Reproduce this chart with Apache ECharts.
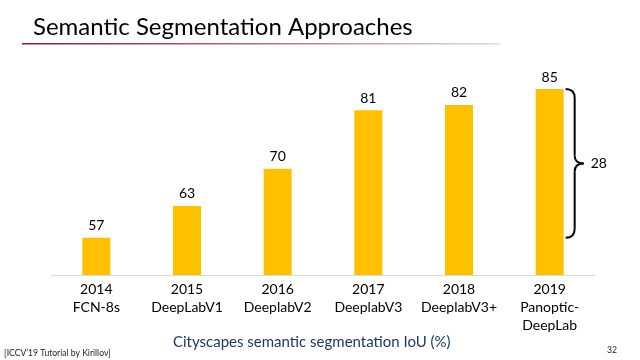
<!DOCTYPE html>
<html>
<head>
<meta charset="utf-8">
<script src="https://cdn.jsdelivr.net/npm/echarts@6/dist/echarts.min.js"></script>
<style>html,body{margin:0;padding:0;background:#fff}#c{width:640px;height:360px}</style>
</head>
<body>
<div id="c"></div>
<script>
const years = ['2014','2015','2016','2017','2018','2019'];
const methods = ['FCN-8s','DeepLabV1','DeeplabV2','DeeplabV3','DeeplabV3+','Panoptic-\nDeepLab'];
const iou = [57, 63, 70, 81, 82, 85];
const titleText = 'Semantic Segmentation Approaches';
const captionText = 'Cityscapes semantic segmentation IoU (%)';
const sourceText = "[ICCV\u201919 Tutorial by Kirillov]";
const pageText = '32';

const FONT = 'Lato';
const categories = years.map((y, i) => y + '\n' + methods[i]);
const chart = echarts.init(document.getElementById('c'), null, {renderer: 'canvas'});
chart.setOption({
  animation: false,
  backgroundColor: '#ffffff',
  textStyle: {fontFamily: FONT},
  title: {
    text: titleText, left: 28, top: 10,
    textStyle: {fontFamily: FONT, fontSize: 24, fontWeight: 'normal', color: '#000'}
  },
  grid: {left: 51, right: 45, top: 89, bottom: 85},
  xAxis: {
    type: 'category', data: categories,
    axisLine: {lineStyle: {color: '#d9d9d9', width: 1}},
    axisTick: {show: false},
    axisLabel: {fontFamily: FONT, fontSize: 14, lineHeight: 18, color: '#000', margin: 5, interval: 0}
  },
  yAxis: {type: 'value', min: 50, max: 85, show: false, splitLine: {show: false}},
  series: [{
    type: 'bar', data: iou, barWidth: 28,
    itemStyle: {color: '#FFC000'},
    label: {show: true, position: 'top', distance: 5, fontFamily: FONT, fontSize: 14, color: '#000'}
  }]
});

const last = iou.length - 1;
const pTop = chart.convertToPixel({gridIndex: 0}, [last, iou[last]]);
const pBot = chart.convertToPixel({gridIndex: 0}, [last, iou[0]]);
const x0 = pTop[0] + 16, xm = x0 + 9, xt = x0 + 18;
const y1 = pTop[1], y2 = pBot[1], ym = (y1 + y2) / 2;
const bs = {stroke: '#000', lineWidth: 2, fill: null};

chart.setOption({
  graphic: [
    {type: 'rect', shape: {x: 22, y: 43, width: 478, height: 1.5},
     style: {fill: {type: 'linear', x: 0, y: 0, x2: 1, y2: 0, colorStops: [
       {offset: 0, color: '#8B1A30'}, {offset: 0.5, color: '#B07080'}, {offset: 1, color: '#dddddd'}]}}},
    {type: 'bezierCurve', shape: {x1: x0, y1: y1, cpx1: xm, cpy1: y1, x2: xm, y2: y1 + 9}, style: bs},
    {type: 'line', shape: {x1: xm, y1: y1 + 9, x2: xm, y2: ym - 8}, style: bs},
    {type: 'bezierCurve', shape: {x1: xm, y1: ym - 8, cpx1: xm, cpy1: ym, x2: xt, y2: ym}, style: bs},
    {type: 'bezierCurve', shape: {x1: xt, y1: ym, cpx1: xm, cpy1: ym, x2: xm, y2: ym + 8}, style: bs},
    {type: 'line', shape: {x1: xm, y1: ym + 8, x2: xm, y2: y2 - 9}, style: bs},
    {type: 'bezierCurve', shape: {x1: xm, y1: y2 - 9, cpx1: xm, cpy1: y2, x2: x0, y2: y2}, style: bs},
    {type: 'text', x: xt + 7, y: ym, style: {text: String(iou[last] - iou[0]), fontFamily: FONT, fontSize: 14, fill: '#000', textVerticalAlign: 'middle'}},
    {type: 'text', x: 173, y: 342, style: {text: captionText, fontFamily: FONT, fontSize: 15, fill: '#1F3864', textVerticalAlign: 'middle'}},
    {type: 'text', x: 4, y: 353, style: {text: sourceText, fontFamily: FONT, fontSize: 8.6, fill: '#222', textVerticalAlign: 'middle'}},
    {type: 'text', x: 607, y: 350, style: {text: pageText, fontFamily: FONT, fontSize: 8.6, fill: '#222', textVerticalAlign: 'middle'}}
  ]
});
</script>
</body>
</html>
